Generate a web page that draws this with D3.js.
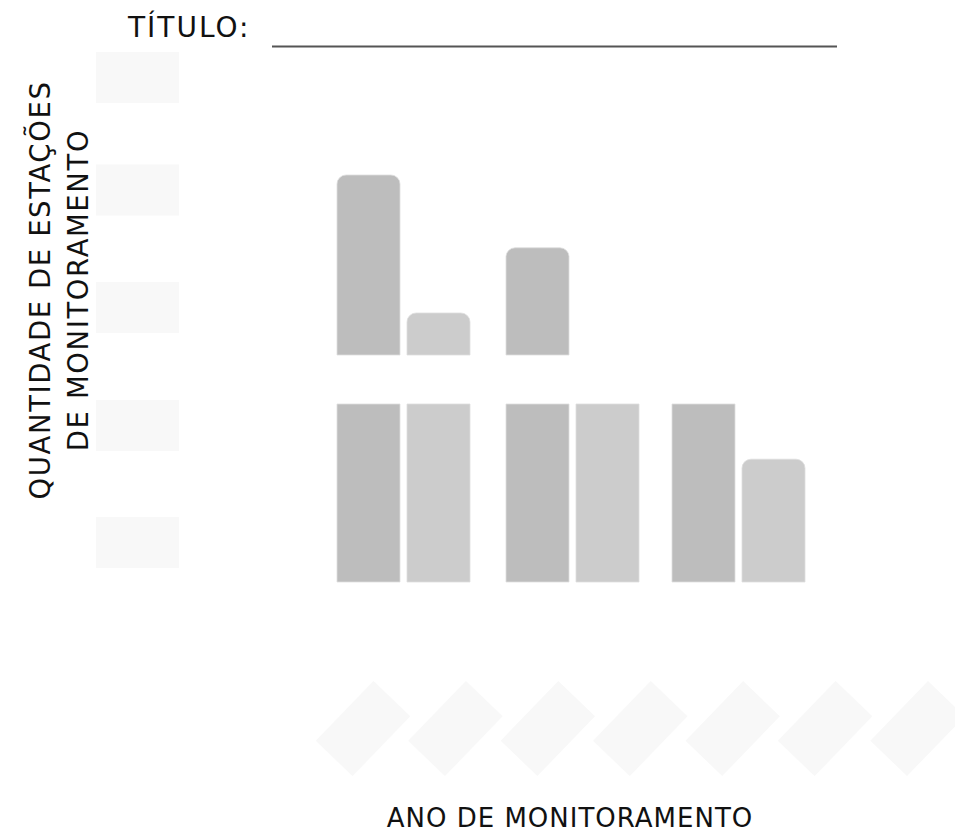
<!DOCTYPE html>
<html>
<head>
<meta charset="utf-8">
<script src="https://cdn.jsdelivr.net/npm/d3@7"></script>
<style>
  html, body { margin: 0; padding: 0; background: #fff; }
  svg { display: block; }
  text { font-family: "DejaVu Sans", Verdana, sans-serif; fill: #111; }
</style>
</head>
<body>
<svg id="chart" width="955" height="833"></svg>
<script>
// Grouped bars with a broken value axis (lower and upper panels)
const groups = ["G1", "G2", "G3"];
const seriesKeys = ["serieA", "serieB"];
const serieA = [47.5, 38.4, 20];
const serieB = [30.25, 20, 13.8];

// Blank label slots for the axes (drawn as light placeholders)
const yTickSlots = [0, 1, 2, 3, 4];
const xTickSlots = [0, 1, 2, 3, 4, 5, 6];

const titleText = "TÍTULO:";
const yLabelLines = ["QUANTIDADE DE ESTAÇÕES", "DE MONITORAMENTO"];
const xLabelText = "ANO DE MONITORAMENTO";

const lowerDomain = [0, 20];
const upperDomain = [25, 50];

const svg = d3.select("#chart");

const x1 = d3.scaleBand().domain(seriesKeys).range([0, 133]).paddingInner(0.1);
const yLow = d3.scaleLinear().domain(lowerDomain).range([582, 404]);
const yHigh = d3.scaleLinear().domain(upperDomain).range([355, 155]);

const colors = { serieA: "#bdbdbd", serieB: "#cccccc" };
const R = 9;

// path for a bar segment; rounded top corners only when the value ends inside the panel
function barPath(x, w, yTop, yBot, rounded) {
  const p = d3.path();
  if (rounded) {
    p.moveTo(x, yBot);
    p.lineTo(x, yTop + R);
    p.arcTo(x, yTop, x + R, yTop, R);
    p.lineTo(x + w - R, yTop);
    p.arcTo(x + w, yTop, x + w, yTop + R, R);
    p.lineTo(x + w, yBot);
  } else {
    p.moveTo(x, yBot);
    p.lineTo(x, yTop);
    p.lineTo(x + w, yTop);
    p.lineTo(x + w, yBot);
  }
  p.closePath();
  return p.toString();
}

const rows = [];
groups.forEach((g, i) => {
  rows.push({ g, key: "serieA", v: serieA[i] });
  rows.push({ g, key: "serieB", v: serieB[i] });
});

// group positions along the category axis
const groupStart = [337, 506, 672];
const gx = d3.scaleOrdinal().domain(groups).range(groupStart);

const barsG = svg.append("g");
rows.forEach(d => {
  const x = gx(d.g) + x1(d.key);
  const w = x1.bandwidth();
  // lower panel
  const atBreak = d.v >= lowerDomain[1];
  const yTopLow = yLow(Math.min(d.v, lowerDomain[1]));
  barsG.append("path")
    .attr("d", barPath(x, w, yTopLow, yLow(0), !atBreak))
    .attr("fill", colors[d.key])
    .attr("stroke", "#dedede")
    .attr("stroke-width", 0.8);
  // upper panel
  if (d.v > upperDomain[0]) {
    barsG.append("path")
      .attr("d", barPath(x, w, yHigh(d.v), yHigh(upperDomain[0]), true))
      .attr("fill", colors[d.key])
      .attr("stroke", "#dedede")
      .attr("stroke-width", 0.8);
  }
});

// y-axis label slots
const ySlotPos = [77.5, 190, 307.5, 425.5, 542.5];
const ySlot = d3.scaleOrdinal().domain(yTickSlots).range(ySlotPos);
svg.append("g").selectAll("rect").data(yTickSlots).join("rect")
  .attr("x", 96).attr("width", 83)
  .attr("y", d => ySlot(d) - 25.5).attr("height", 51)
  .attr("fill", "#f8f8f8");

// x-axis label slots, rotated
const xSlot = d3.scalePoint().domain(xTickSlots).range([363, 917.5]);
svg.append("g").selectAll("rect").data(xTickSlots).join("rect")
  .attr("x", -41.5).attr("y", -25.5).attr("width", 83).attr("height", 51)
  .attr("transform", d => `translate(${xSlot(d)},728.5) rotate(-46)`)
  .attr("fill", "#f8f8f8");

// title and underline
svg.append("text")
  .attr("x", 128).attr("y", 37)
  .attr("font-size", 28).attr("letter-spacing", 2)
  .text(titleText);
svg.append("line")
  .attr("x1", 272).attr("x2", 837).attr("y1", 46.5).attr("y2", 46.5)
  .attr("stroke", "#555").attr("stroke-width", 2);

// axis titles
svg.append("g").selectAll("text").data(yLabelLines).join("text")
  .attr("transform", (d, i) => `translate(${i === 0 ? 50 : 88},290) rotate(-90)`)
  .attr("text-anchor", "middle")
  .attr("font-size", 27.5).attr("letter-spacing", 1.6)
  .text(d => d);

svg.append("text")
  .attr("x", 570).attr("y", 827)
  .attr("text-anchor", "middle")
  .attr("font-size", 26).attr("letter-spacing", 1)
  .text(xLabelText);
</script>
</body>
</html>
